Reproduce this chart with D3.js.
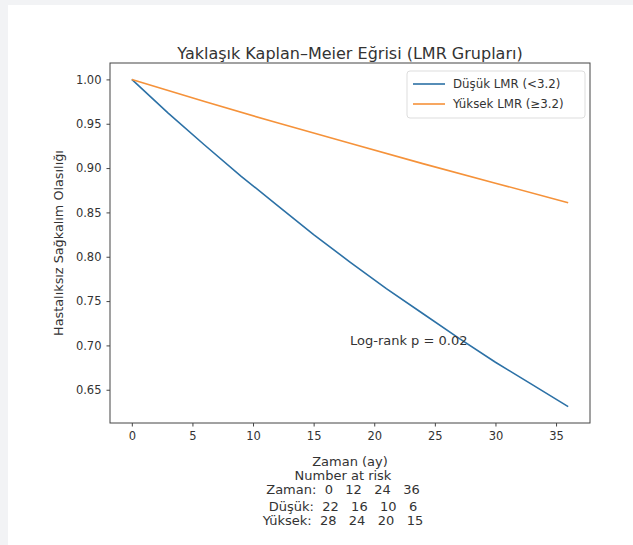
<!DOCTYPE html>
<html>
<head>
<meta charset="utf-8">
<script src="https://cdn.jsdelivr.net/npm/d3@7"></script>
<style>
    body { margin: 0; background: #f2f3f5; }
    #chart { position: absolute; left: 8px; top: 5px; }
    text { font-family: "DejaVu Sans", sans-serif; fill: #333; }
</style>
</head>
<body>
<div id="chart"></div>
<script>
// survival (months, probability)
var timeLow = [0, 3, 6, 9, 12, 15, 18, 21, 24, 27, 30, 33, 36];
var survLow = [1.000, 0.962, 0.926, 0.891, 0.858, 0.825, 0.794, 0.764, 0.736, 0.708, 0.681, 0.656, 0.631];
var timeHigh = [0, 6, 12, 18, 24, 30, 36];
var survHigh = [1.000, 0.975, 0.951, 0.928, 0.905, 0.883, 0.861];

var seriesNames = ["Düşük LMR (<3.2)", "Yüksek LMR (≥3.2)"];
var seriesColors = ["#2c71a6", "#f5923a"];

var xTicks = [0, 5, 10, 15, 20, 25, 30, 35];
var yTicks = [0.65, 0.70, 0.75, 0.80, 0.85, 0.90, 0.95, 1.00];

var riskTimes = [0, 12, 24, 36];
var riskLow = [22, 16, 10, 6];
var riskHigh = [28, 24, 20, 15];

var pValue = 0.02;

function drawChart() {
    var margin = { top: 58, right: 43, bottom: 122, left: 102 };
    var width = 625 - margin.left - margin.right;
    var height = 540 - margin.top - margin.bottom;

    var svg = d3.select("#chart")
        .append("svg")
        .attr("width", 625)
        .attr("height", 540)
        .style("background", "#fff");

    var g = svg.append("g")
        .attr("transform", "translate(" + margin.left + "," + margin.top + ")");

    var x = d3.scaleLinear().domain([-1.8, 37.8]).range([0, width]);
    var y = d3.scaleLinear().domain([0.6125, 1.0185]).range([height, 0]);

    var line = d3.line()
        .x(function(d) { return x(d[0]); })
        .y(function(d) { return y(d[1]); });

    var series = [
        d3.zip(timeLow, survLow),
        d3.zip(timeHigh, survHigh)
    ];

    g.selectAll(".curve")
        .data(series)
        .enter().append("path")
        .attr("class", "curve")
        .attr("fill", "none")
        .attr("stroke", function(d, i) { return seriesColors[i]; })
        .attr("stroke-width", 1.6)
        .attr("d", line);

    var xAxis = g.append("g")
        .attr("transform", "translate(0," + height + ")")
        .call(d3.axisBottom(x).tickValues(xTicks).tickSize(3.5).tickPadding(5).tickFormat(d3.format("d")));
    var yAxis = g.append("g")
        .call(d3.axisLeft(y).tickValues(yTicks).tickSize(3.5).tickPadding(5).tickFormat(d3.format(".2f")));

    [xAxis, yAxis].forEach(function(ax) {
        ax.select(".domain").remove();
        ax.selectAll("line").attr("stroke", "#444");
        ax.selectAll("text").attr("font-size", 11.5).attr("fill", "#333")
            .style("font-family", "DejaVu Sans, sans-serif");
    });

    g.append("rect")
        .attr("width", width)
        .attr("height", height)
        .attr("fill", "none")
        .attr("stroke", "#444")
        .attr("stroke-width", 1);

    svg.append("text")
        .text("Yaklaşık Kaplan–Meier Eğrisi (LMR Grupları)")
        .attr("text-anchor", "middle")
        .attr("x", margin.left + width / 2)
        .attr("y", 54)
        .attr("font-size", 16);

    svg.append("text")
        .text("Hastalıksız Sağkalım Olasılığı")
        .attr("text-anchor", "middle")
        .attr("transform", "translate(55," + (margin.top + height / 2) + ") rotate(-90)")
        .attr("font-size", 12.8);

    g.append("text")
        .text("Log-rank p = " + pValue.toFixed(2))
        .attr("x", x(18))
        .attr("y", y(0.70))
        .attr("font-size", 13);

    // legend
    var legend = g.append("g")
        .attr("transform", "translate(" + (width - 183) + ",8)");
    legend.append("rect")
        .attr("width", 178)
        .attr("height", 47)
        .attr("rx", 3)
        .attr("fill", "#fff")
        .attr("stroke", "#ddd");
    var rows = legend.selectAll(".row")
        .data(seriesNames)
        .enter().append("g")
        .attr("class", "row")
        .attr("transform", function(d, i) { return "translate(0," + (13 + i * 20) + ")"; });
    rows.append("line")
        .attr("x1", 6).attr("x2", 38)
        .attr("stroke", function(d, i) { return seriesColors[i]; })
        .attr("stroke-width", 1.6);
    rows.append("text")
        .text(function(d) { return d; })
        .attr("x", 46)
        .attr("dy", "0.35em")
        .attr("font-size", 11.8);

    // x label and number-at-risk table
    var tableLines = [
        "Zaman (ay)",
        "Number at risk",
        "Zaman:  " + riskTimes.join("   "),
        "Düşük:  " + riskLow.join("   "),
        "Yüksek:  " + riskHigh.join("   ")
    ];
    var centers = [margin.left + width / 2, 335, 335, 335, 335];
    var baselines = [461, 475, 489, 506, 520];
    svg.selectAll(".risk")
        .data(tableLines)
        .enter().append("text")
        .attr("class", "risk")
        .text(function(d) { return d; })
        .attr("text-anchor", "middle")
        .attr("x", function(d, i) { return centers[i]; })
        .attr("y", function(d, i) { return baselines[i]; })
        .attr("font-size", 13)
        .style("white-space", "pre");
}

drawChart();
</script>
</body>
</html>
